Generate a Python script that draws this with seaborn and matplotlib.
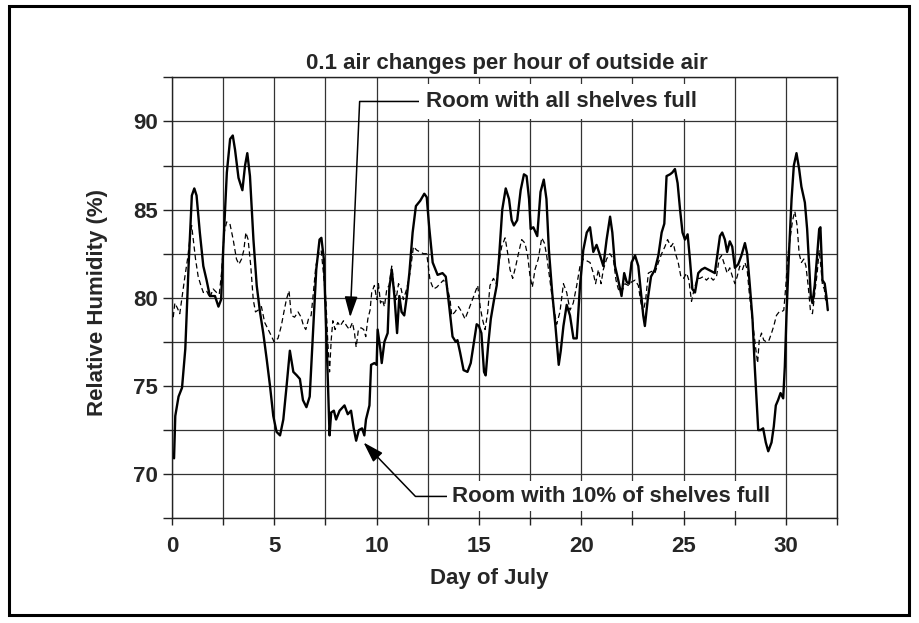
import numpy as np
import pandas as pd
import matplotlib
matplotlib.use("Agg")
import matplotlib.pyplot as plt
import seaborn as sns
from matplotlib.patches import Rectangle
from matplotlib.ticker import MultipleLocator

# ---------------- data ----------------
days_10pct = [0.10, 0.16, 0.32, 0.49, 0.65, 0.81, 0.97, 1.09, 1.20, 1.36, 1.53, 1.69, 1.85, 2.10, 2.27, 2.40,
              2.50, 2.68, 2.84, 2.97, 3.08, 3.25, 3.44, 3.57, 3.68, 3.81, 3.98, 4.14, 4.30, 4.46, 4.63, 4.79,
              4.95, 5.11, 5.28, 5.44, 5.60, 5.76, 5.93, 6.10, 6.25, 6.40, 6.57, 6.73, 6.89, 7.05, 7.21, 7.30,
              7.42, 7.54, 7.62, 7.70, 7.78, 7.91, 8.02, 8.19, 8.43, 8.59, 8.75, 8.88, 9.00, 9.13, 9.29, 9.40,
              9.48, 9.65, 9.73, 9.89, 10.00, 10.05, 10.18, 10.25, 10.38, 10.54, 10.62, 10.74, 10.87, 11.00,
              11.11, 11.22, 11.35, 11.48, 11.60, 11.76, 11.92, 12.13, 12.33, 12.45, 12.57, 12.74, 12.98, 13.22,
              13.38, 13.55, 13.71, 13.87, 13.95, 14.08, 14.25, 14.44, 14.60, 14.76, 14.89, 15.00, 15.12, 15.25,
              15.33, 15.45, 15.58, 15.74, 15.87, 15.98, 16.14, 16.31, 16.47, 16.60, 16.71, 16.87, 17.04, 17.20,
              17.33, 17.45, 17.53, 17.66, 17.85, 18.01, 18.17, 18.30, 18.42, 18.58, 18.74, 18.90, 19.00, 19.13,
              19.29, 19.45, 19.62, 19.78, 19.94, 20.10, 20.27, 20.43, 20.59, 20.75, 20.92, 21.08, 21.24, 21.41,
              21.52, 21.65, 21.81, 21.97, 22.10, 22.22, 22.34, 22.46, 22.63, 22.79, 22.92, 23.03, 23.11, 23.25,
              23.41, 23.60, 23.77, 23.93, 24.06, 24.17, 24.34, 24.45, 24.58, 24.71, 24.83, 24.95, 25.07, 25.20,
              25.31, 25.43, 25.56, 25.72, 25.88, 26.04, 26.21, 26.37, 26.53, 26.65, 26.78, 26.89, 27.02, 27.13,
              27.26, 27.38, 27.51, 27.67, 27.83, 28.00, 28.11, 28.24, 28.37, 28.48, 28.57, 28.65, 28.76, 28.89,
              29.02, 29.14, 29.30, 29.41, 29.51, 29.62, 29.74, 29.87, 29.95, 30.03, 30.16, 30.28, 30.39, 30.52,
              30.65, 30.76, 30.93, 31.04, 31.14, 31.22, 31.30, 31.41, 31.53, 31.63, 31.69, 31.79, 31.90, 31.98,
              32.05]
rh_10pct = [70.9, 73.3, 74.4, 74.9, 77.1, 81.8, 85.8, 86.2, 85.8, 83.7, 81.8, 81.0, 80.1, 80.1, 79.5, 79.9,
            82.7, 87.1, 89.0, 89.2, 88.4, 86.8, 86.1, 87.5, 88.2, 86.9, 83.3, 80.7, 79.2, 78.0, 76.5, 75.0,
            73.3, 72.4, 72.2, 73.1, 75.0, 77.0, 75.8, 75.6, 75.4, 74.2, 73.8, 74.4, 78.0, 81.6, 83.3, 83.4,
            82.2, 78.0, 75.2, 72.2, 73.5, 73.6, 73.1, 73.6, 73.9, 73.4, 73.6, 72.6, 71.9, 72.5, 72.6, 72.2,
            73.1, 73.9, 76.2, 76.3, 76.2, 78.2, 77.1, 76.3, 77.5, 78.0, 80.5, 81.6, 80.1, 78.0,
            80.1, 79.2, 79.0, 80.1, 81.4, 83.7, 85.2, 85.5, 85.9, 85.7, 84.0, 82.0, 81.3, 81.4,
            81.2, 79.5, 77.8, 77.5, 77.6, 76.9, 75.9, 75.8, 76.3, 77.5, 78.5, 78.4, 78.0, 75.8,
            75.6, 77.3, 78.8, 79.9, 80.7, 82.2, 85.0, 86.2, 85.6, 84.4, 84.1, 84.4, 86.1, 87.0,
            86.9, 85.6, 83.9, 84.0, 83.5, 86.0, 86.7, 85.6, 82.7, 80.3, 78.4, 76.2, 77.0, 78.4,
            79.6, 79.0, 77.7, 77.7, 80.7, 82.7, 83.7, 84.0, 82.6, 83.0, 82.4, 81.8, 83.3, 84.6,
            83.7, 81.8, 81.0, 80.1, 81.4, 80.9, 80.8, 82.0, 82.4, 81.8, 80.3, 79.0, 78.4, 79.9,
            81.2, 81.6, 82.4, 83.7, 84.2, 86.9, 87.0, 87.1, 87.3, 86.5, 85.0, 83.7, 83.3, 83.6,
            82.2, 80.5, 80.3, 81.4, 81.6, 81.7, 81.6, 81.5, 81.4, 82.4, 83.5, 83.7, 83.3, 82.6,
            83.2, 82.9, 81.7, 81.9, 82.4, 83.1, 82.5, 80.7, 78.8, 76.1, 74.2, 72.5, 72.5, 72.6,
            71.8, 71.3, 71.8, 72.7, 73.9, 74.2, 74.6, 74.3, 76.1, 79.0, 82.7, 85.6, 87.5, 88.2,
            87.3, 86.3, 85.4, 83.9, 81.8, 80.1, 79.7, 80.7, 82.4, 83.9, 84.0, 81.0, 80.8, 80.1,
            79.3]

days_full = [0.06, 0.14, 0.27, 0.38, 0.50, 0.63, 0.76, 0.87, 0.96, 1.04, 1.15, 1.28, 1.41, 1.53, 1.69, 1.85,
             2.01, 2.18, 2.31, 2.42, 2.55, 2.67, 2.83, 2.99, 3.15, 3.27, 3.40, 3.51, 3.61, 3.72, 3.85, 3.97,
             4.08, 4.21, 4.37, 4.53, 4.70, 4.83, 4.99, 5.18, 5.34, 5.47, 5.59, 5.72, 5.83, 5.99, 6.16, 6.31,
             6.43, 6.54, 6.67, 6.80, 6.91, 7.03, 7.16, 7.29, 7.40, 7.52, 7.61, 7.70, 7.78, 7.86, 7.97, 8.10,
             8.22, 8.38, 8.54, 8.67, 8.82, 8.92, 9.00, 9.11, 9.24, 9.37, 9.47, 9.57, 9.68, 9.76, 9.89, 10.01,
             10.09, 10.19, 10.28, 10.38, 10.50, 10.61, 10.74, 10.84, 10.95, 11.07, 11.20, 11.31, 11.47, 11.63,
             11.80, 11.96, 12.12, 12.29, 12.45, 12.61, 12.78, 12.94, 13.10, 13.27, 13.43, 13.59, 13.67, 13.83,
             14.00, 14.16, 14.32, 14.49, 14.65, 14.81, 14.94, 15.06, 15.17, 15.30, 15.43, 15.54, 15.71, 15.84,
             15.95, 16.11, 16.28, 16.41, 16.52, 16.65, 16.80, 16.93, 17.09, 17.25, 17.38, 17.50, 17.61, 17.74,
             17.90, 18.07, 18.20, 18.31, 18.47, 18.64, 18.80, 18.96, 19.13, 19.29, 19.45, 19.61, 19.78, 19.94,
             20.10, 20.27, 20.43, 20.59, 20.70, 20.84, 20.97, 21.08, 21.24, 21.40, 21.57, 21.70, 21.81, 21.97,
             22.14, 22.30, 22.46, 22.63, 22.79, 22.92, 23.03, 23.15, 23.28, 23.44, 23.60, 23.77, 23.93, 24.09,
             24.22, 24.38, 24.50, 24.61, 24.74, 24.87, 25.00, 25.15, 25.26, 25.39, 25.52, 25.68, 25.80, 25.96,
             26.12, 26.29, 26.45, 26.61, 26.74, 26.86, 27.02, 27.13, 27.26, 27.39, 27.51, 27.62, 27.75, 27.88,
             28.00, 28.11, 28.21, 28.32, 28.44, 28.53, 28.62, 28.70, 28.81, 28.92, 29.05, 29.18, 29.30, 29.41,
             29.54, 29.67, 29.79, 29.90, 30.00, 30.10, 30.20, 30.33, 30.44, 30.55, 30.65, 30.76, 30.88, 30.98,
             31.09, 31.20, 31.30, 31.42, 31.53, 31.63, 31.71, 31.79, 31.88, 31.96]
rh_full = [78.9, 79.7, 79.4, 79.1, 80.1, 81.2, 82.2, 83.3, 84.1, 83.3, 82.2, 81.2, 80.7, 80.3, 80.4, 80.0,
           80.5, 80.3, 80.2, 81.4, 83.7, 84.3, 84.2, 83.3, 82.2, 81.9, 82.2, 82.7, 83.7, 83.3, 81.8, 79.9,
           79.2, 79.3, 79.5, 78.6, 78.2, 77.9, 77.5, 77.7, 78.4, 79.2, 79.9, 80.4, 79.0, 78.9, 79.2, 78.9,
           78.4, 78.2, 78.8, 79.0, 80.3, 81.8, 82.5, 82.7, 81.4, 79.9, 77.6, 75.8, 77.6, 78.7, 78.2, 78.6,
           78.4, 78.7, 78.4, 78.2, 78.6, 78.0, 77.2, 78.2, 78.3, 78.2, 77.8, 78.8, 79.3, 80.3, 80.7, 79.9,
           80.8, 79.7, 79.9, 79.5, 80.5, 80.7, 81.8, 80.7, 79.9, 80.8, 80.5, 79.9, 80.5, 81.4,
           82.9, 82.7, 82.6, 82.5, 82.5, 81.0, 80.5, 80.6, 80.8, 81.0, 80.7, 79.9, 79.0, 79.2,
           79.5, 79.2, 78.8, 79.3, 79.8, 80.3, 80.7, 79.5, 78.8, 78.2, 79.2, 80.7, 81.1, 80.8,
           81.8, 82.9, 83.4, 82.5, 81.6, 81.1, 81.8, 82.5, 83.3, 83.1, 82.4, 81.2, 80.6, 81.6,
           82.2, 83.4, 83.1, 82.4, 81.0, 79.5, 78.5, 79.2, 80.8, 80.3, 79.3, 79.7, 80.7, 81.8,
           82.2, 82.1, 82.0, 81.4, 80.8, 81.6, 80.8, 81.6, 82.2, 82.5, 82.2, 81.0, 80.5, 80.3,
           80.8, 80.7, 80.9, 81.0, 80.7, 79.7, 79.2, 79.9, 81.4, 81.5, 81.4, 82.0, 82.5, 82.9,
           83.3, 82.9, 83.1, 82.5, 82.0, 81.2, 81.1, 81.4, 81.0, 79.8, 80.5, 81.1, 81.1, 81.2,
           81.0, 81.2, 81.0, 81.2, 82.2, 82.4, 81.8, 81.4, 81.7, 81.2, 80.8, 81.2, 81.8, 81.6,
           82.0, 81.6, 80.3, 79.2, 78.0, 77.1, 76.3, 77.6, 78.0, 77.6, 77.5, 77.6, 78.0, 78.4,
           79.0, 79.2, 79.2, 79.3, 80.7, 82.4, 83.3, 84.4, 84.9, 84.1, 82.5, 82.0, 82.2, 81.8,
           80.7, 79.3, 79.1, 80.3, 81.4, 82.7, 81.8, 80.7, 80.5, 79.7]

x_major_ticks = [0, 5, 10, 15, 20, 25, 30]
y_major_ticks = [70, 75, 80, 85, 90]

title_text = "0.1 air changes per hour of outside air"
xlabel_text = "Day of July"
ylabel_text = "Relative Humidity (%)"
label_full = "Room with all shelves full"
label_10pct = "Room with 10% of shelves full"

# ---------------- style ----------------
sns.set_theme(style="white")
plt.rcParams["font.family"] = ["Liberation Sans", "DejaVu Sans"]
plt.rcParams["font.weight"] = "bold"
plt.rcParams["axes.labelweight"] = "bold"
plt.rcParams["axes.titleweight"] = "bold"

FS = 16
fig = plt.figure(figsize=(9.19, 6.23), dpi=100)
W, H = 919, 623
ax_l, ax_r, ax_t, ax_b = 172, 837, 77.3, 518.3
ax = fig.add_axes([ax_l / W, 1 - ax_b / H, (ax_r - ax_l) / W, (ax_b - ax_t) / H])

df10 = pd.DataFrame({"day": days_10pct, "rh": rh_10pct})
dff = pd.DataFrame({"day": days_full, "rh": rh_full})

sns.lineplot(data=dff, x="day", y="rh", ax=ax, color="black", lw=0.9,
             linestyle=(0, (4.2, 2.6)), estimator=None, sort=False, zorder=3)
sns.lineplot(data=df10, x="day", y="rh", ax=ax, color="black", lw=1.7,
             estimator=None, sort=False, zorder=3)

ax.set_xlim(0, 32.5)
ax.set_ylim(67.5, 92.5)
ax.set_xticks(x_major_ticks)
ax.set_yticks(y_major_ticks)
ax.xaxis.set_minor_locator(MultipleLocator(2.5))
ax.yaxis.set_minor_locator(MultipleLocator(2.5))
ax.set_axisbelow(True)
ax.grid(True, which="both", color="#333333", lw=0.9)

for s in ax.spines.values():
    s.set_visible(True)
    s.set_color("#222222")
    s.set_linewidth(1.0)

ax.tick_params(axis="x", which="both", direction="out", length=5, width=1.0,
               color="#222222", bottom=True, labelsize=FS, pad=8)
ax.tick_params(axis="y", which="both", direction="out", length=6.5, width=1.0,
               color="#222222", left=True, labelsize=FS, pad=3.5)
for lab in ax.get_xticklabels() + ax.get_yticklabels():
    lab.set_fontweight("bold")

ax.set_title(title_text, fontsize=FS, fontweight="bold", pad=6, x=0.503)
ax.set_xlabel(xlabel_text, fontsize=FS, fontweight="bold")
ax.set_ylabel(ylabel_text, fontsize=FS, fontweight="bold")
ax.xaxis.set_label_coords(0.4767, -0.1127)
ax.yaxis.set_label_coords(-0.0962, 0.49)

arrow_kw = dict(arrowstyle="-|>,head_length=0.7,head_width=0.22", color="black",
                lw=1.1, shrinkA=0, shrinkB=0, mutation_scale=18)
ax.annotate(label_full, xy=(8.71, 78.9), xytext=(12.42, 91.13),
            ha="left", va="center", fontsize=FS, fontweight="bold", zorder=5,
            bbox=dict(boxstyle="square,pad=0.3", fc="white", ec="none"),
            arrowprops=dict(connectionstyle="angle,angleA=180,angleB=87.5,rad=0", **arrow_kw))
ax.annotate(label_10pct, xy=(9.36, 71.8), xytext=(13.67, 68.74),
            ha="left", va="center", fontsize=FS, fontweight="bold", zorder=5,
            bbox=dict(boxstyle="square,pad=0.2", fc="white", ec="none"),
            arrowprops=dict(connectionstyle="angle,angleA=180,angleB=-46.1,rad=0", **arrow_kw))

fig.patches.append(Rectangle((9 / W, 1 - 615 / H), 900 / W, 609 / H, transform=fig.transFigure,
                             fill=False, lw=2.2, ec="black", zorder=10))

fig.savefig("out.png", dpi=100)
